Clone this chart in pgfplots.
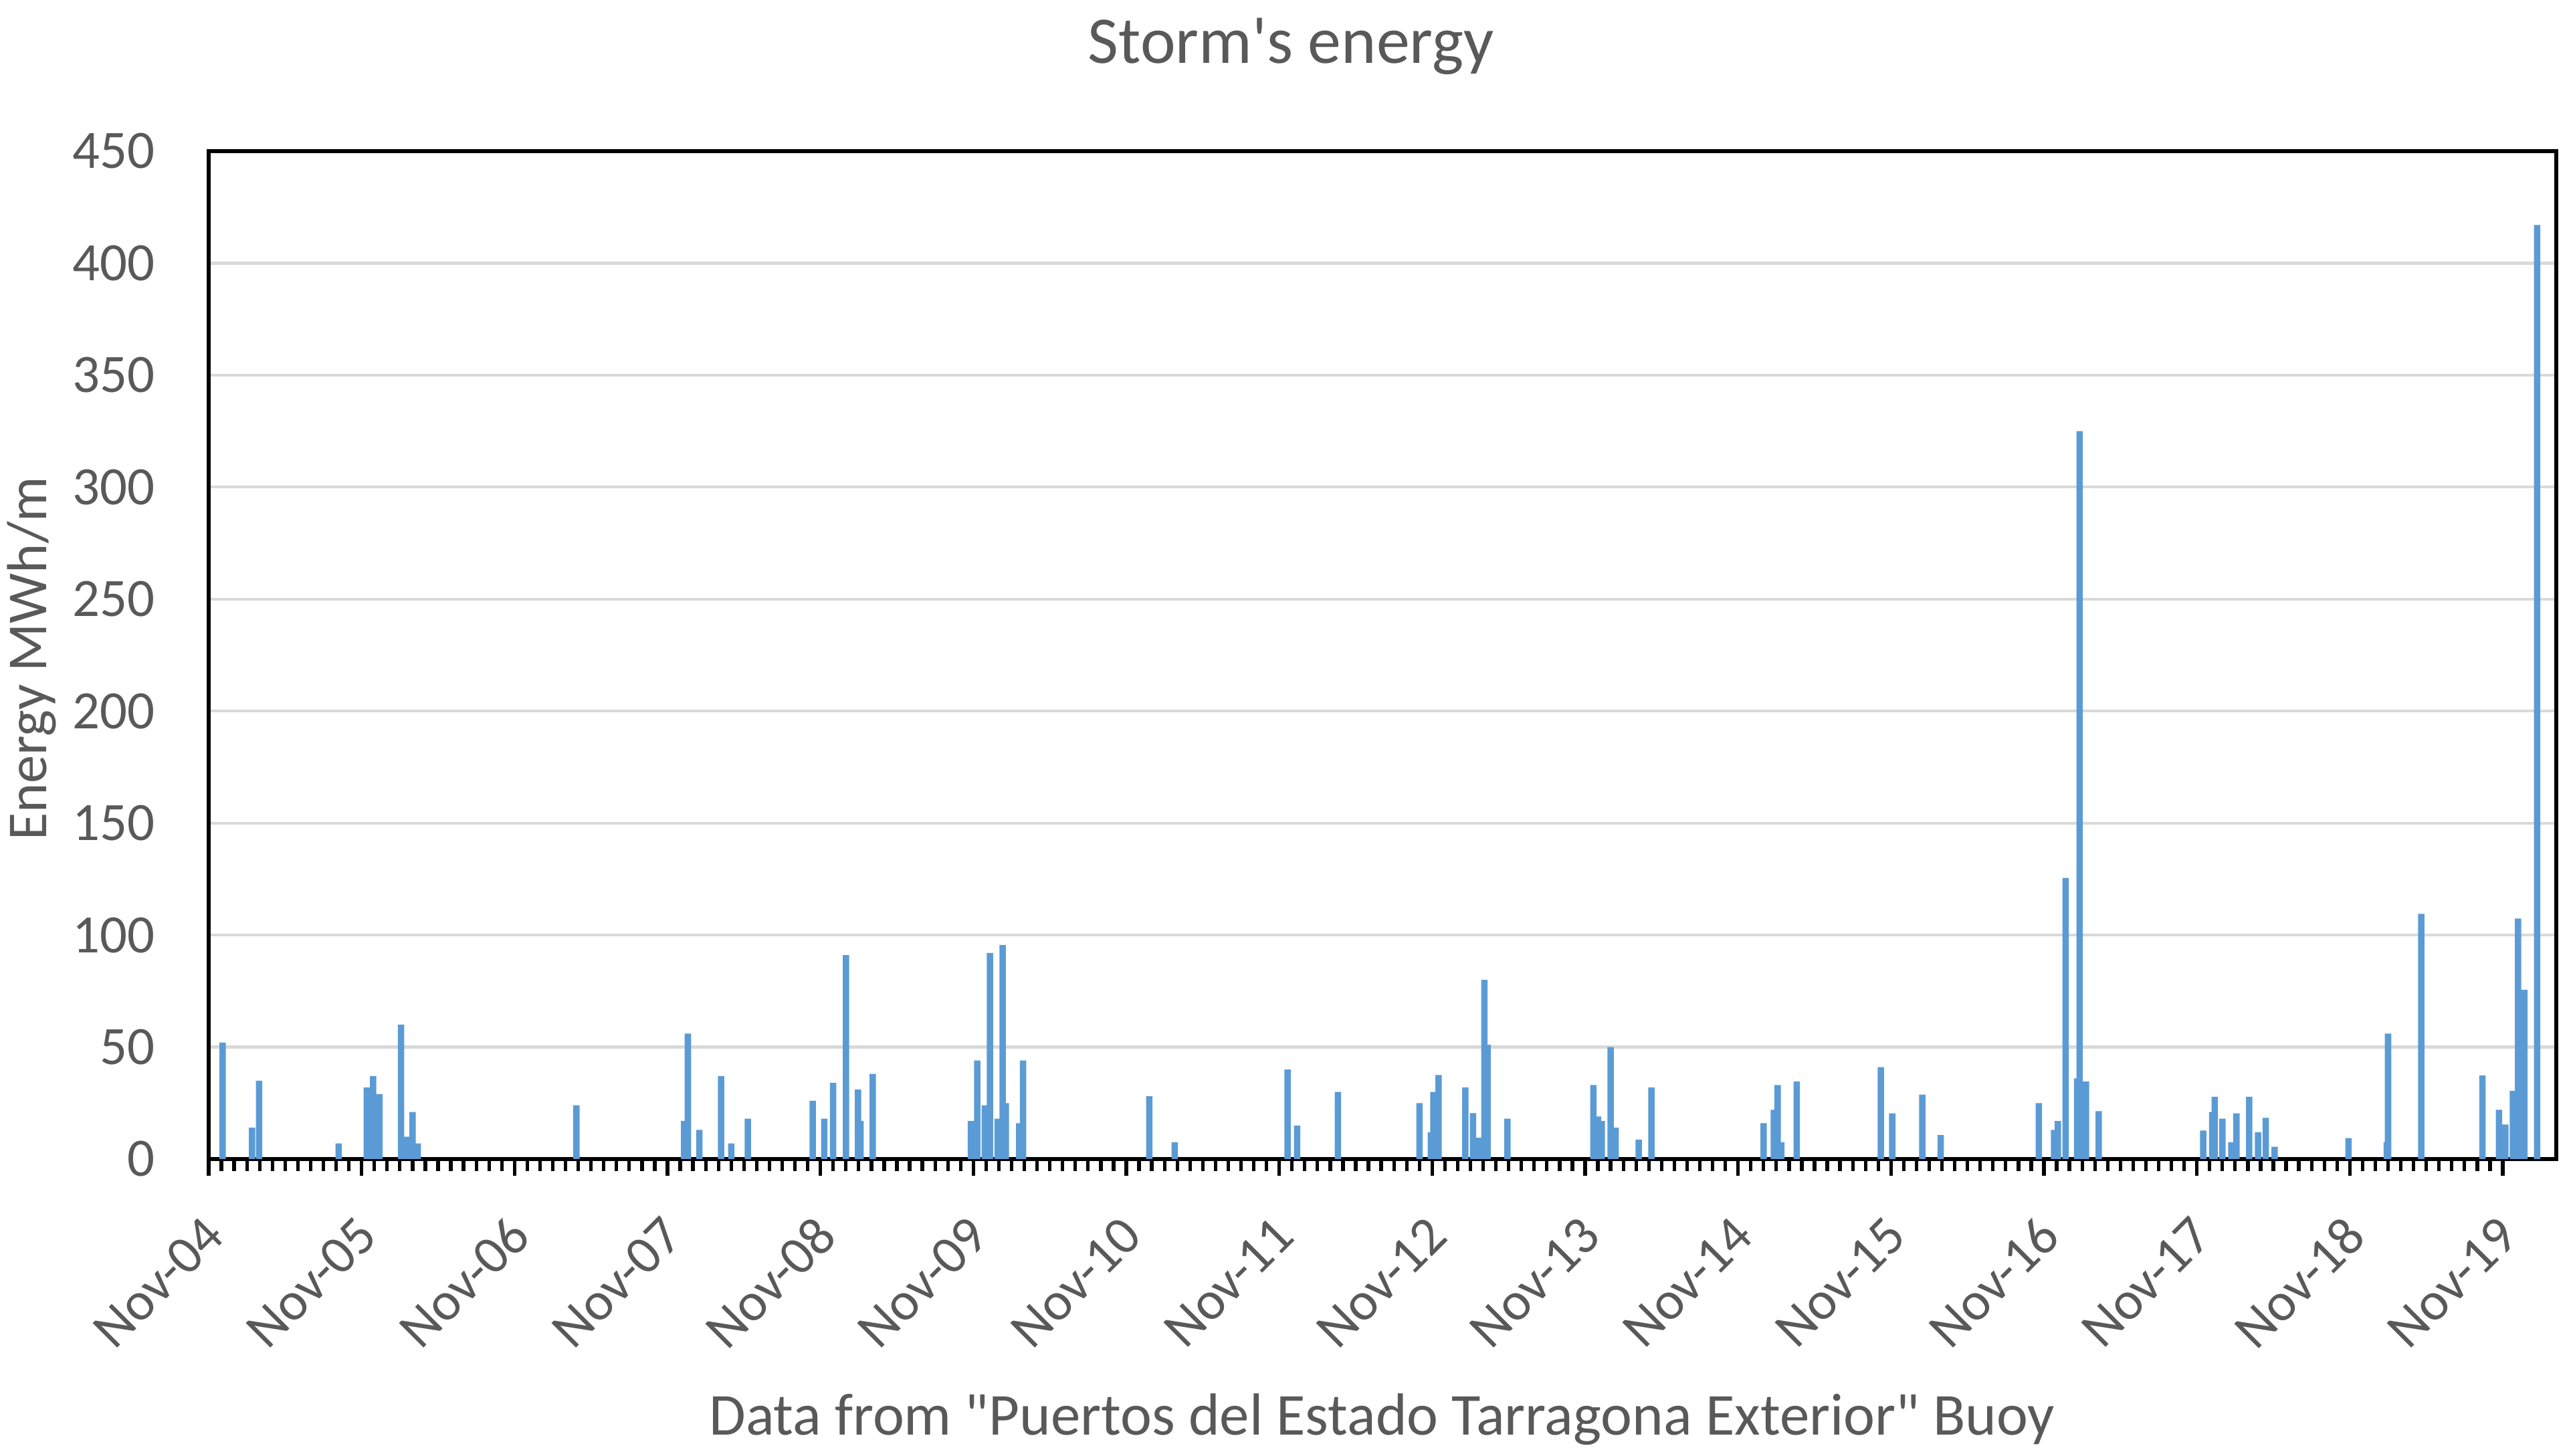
\documentclass[border=0pt]{standalone}
\usepackage{fontspec}
\setmainfont{Carlito}[Ligatures=TeXOff]
\usepackage{pgfplots}
\usepackage{pgfplotstable}
\pgfplotsset{compat=1.18}
\definecolor{barblue}{HTML}{5B9BD5}
\definecolor{txtgray}{HTML}{595959}
\definecolor{gridgray}{HTML}{D9D9D9}

% x = months since Nov 2004, e = storm energy (MWh/m)
\pgfplotstableread{
m e
1.1 52
3.4 14
3.96 35
10.2 7
12.4 32
12.9 37
13.4 29
15.1 60
15.6 10
16.0 21
16.4 7
28.85 24
37.3 17
37.6 56
38.5 13
40.2 37
41.0 7
42.3 18
47.4 26
48.3 18
49.0 34
50.0 91
50.95 31
51.15 17
52.1 38
59.8 17
60.3 44
60.9 24
61.3 92
61.9 18
62.3 95.6
62.55 25
63.6 16
63.9 44
73.8 28
75.8 7.5
84.65 40
85.4 15
88.6 30
95.0 25
95.9 12
96.1 30
96.5 37.5
98.6 32
99.2 20.5
99.6 9.5
100.1 80
100.35 51
101.9 18
108.65 33
109.0 19
109.3 17
110.0 50
110.4 14
112.2 8.7
113.2 32
122.0 16
122.8 22
123.1 33
123.4 7.5
124.6 34.6
131.2 41
132.1 20.4
134.45 28.8
135.9 10.7
143.6 25
144.8 13
145.1 17
145.7 125.5
146.6 36
146.8 325
147.3 34.6
148.3 21.4
156.5 12.7
157.2 21
157.4 27.8
158.0 18
158.7 7.5
159.1 20.4
160.1 27.8
160.8 12
161.4 18.4
162.1 5.5
167.9 9.4
170.9 7.5
171.0 56
173.6 109.5
178.4 37.3
179.7 22
180.2 15.4
180.8 30.4
181.2 107.4
181.7 75.6
182.7 417
}\storms

\begin{document}
\begin{tikzpicture}
\begin{axis}[
  at={(0,0)}, anchor=south west,
  scale only axis, width=17.55cm, height=7.535cm,
  xmin=0, xmax=184.2, ymin=0, ymax=450,
  ybar, bar width=0.5,
  xtick={0,12,...,180},
  xticklabels={Nov-04,Nov-05,Nov-06,Nov-07,Nov-08,Nov-09,Nov-10,Nov-11,Nov-12,Nov-13,Nov-14,Nov-15,Nov-16,Nov-17,Nov-18,Nov-19},
  minor x tick num=11,
  ytick={0,50,...,450},
  tick align=outside,
  major tick length=0.125cm, minor tick length=0.09cm,
  xtick pos=bottom, ytick pos=left,
  every tick/.style={black, line width=0.75pt},
  ytick style={draw=none},
  ymajorgrids, grid style={gridgray, line width=0.6pt},
  axis line style={black, line width=0.85pt},
  /pgf/number format/assume math mode=true,
  tick label style={font=\fontsize{11.5}{13}\selectfont, text=txtgray},
  yticklabel style={inner sep=0pt, anchor=east, xshift=-0.27cm},
  xticklabel style={inner sep=0pt, xshift=0.045cm, yshift=-0.375cm, rotate=45, anchor=east},
  title={Storm's energy},
  every axis title/.style={at={(axis description cs:0.461,1.1042)}, anchor=center, font=\fontsize{14.2}{16}\selectfont, text=txtgray},
  xlabel={Data from "Puertos del Estado Tarragona Exterior" Buoy},
  xlabel style={at={(axis description cs:0.4998,-0.258)}, anchor=center, font=\fontsize{12.65}{14}\selectfont, text=txtgray},
  ylabel={Energy MWh/m},
  ylabel style={at={(axis description cs:-0.0755,0.4964)}, anchor=center, font=\fontsize{12}{14}\selectfont, text=txtgray},
]
\addplot[fill=barblue, draw=none, bar shift=0pt] table[x=m,y=e]{\storms};
\end{axis}
\pgfresetboundingbox
\path (-1.56cm,-2.22cm) rectangle (17.69cm,8.665cm);
\end{tikzpicture}
\end{document}
